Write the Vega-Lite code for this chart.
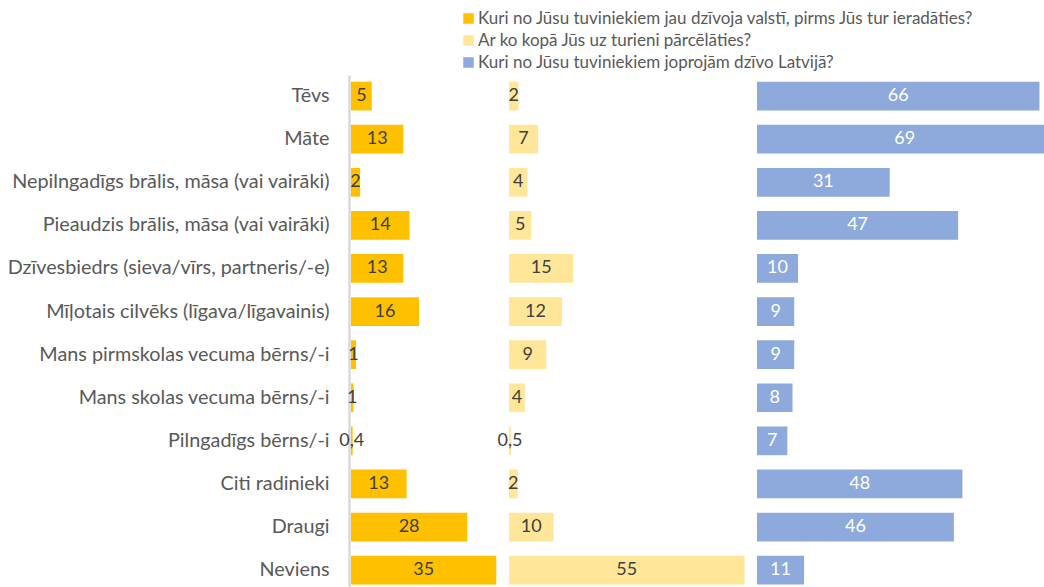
{
  "$schema": "https://vega.github.io/schema/vega-lite/v6.json",
  "padding": {"left": 7, "top": 10, "right": 0, "bottom": 0},
  "spacing": 0,
  "bounds": "flush",
  "config": {
    "view": {"stroke": null},
    "font": "Lato",
    "concat": {"spacing": 0},
    "locale": {"number": {"decimal": ",", "thousands": " ", "grouping": [3], "currency": ["", " €"]}}
  },
  "datasets": {
    "d": [
      {"cat": "Tēvs", "series": "Kuri no Jūsu tuviniekiem jau dzīvoja valstī, pirms Jūs tur ieradāties?", "value": 5},
      {"cat": "Māte", "series": "Kuri no Jūsu tuviniekiem jau dzīvoja valstī, pirms Jūs tur ieradāties?", "value": 12.6},
      {"cat": "Nepilngadīgs brālis, māsa (vai vairāki)", "series": "Kuri no Jūsu tuviniekiem jau dzīvoja valstī, pirms Jūs tur ieradāties?", "value": 2.2},
      {"cat": "Pieaudzis brālis, māsa (vai vairāki)", "series": "Kuri no Jūsu tuviniekiem jau dzīvoja valstī, pirms Jūs tur ieradāties?", "value": 14.1},
      {"cat": "Dzīvesbiedrs (sieva/vīrs, partneris/-e)", "series": "Kuri no Jūsu tuviniekiem jau dzīvoja valstī, pirms Jūs tur ieradāties?", "value": 12.6},
      {"cat": "Mīļotais cilvēks (līgava/līgavainis)", "series": "Kuri no Jūsu tuviniekiem jau dzīvoja valstī, pirms Jūs tur ieradāties?", "value": 16.4},
      {"cat": "Mans pirmskolas vecuma bērns/-i", "series": "Kuri no Jūsu tuviniekiem jau dzīvoja valstī, pirms Jūs tur ieradāties?", "value": 1.2},
      {"cat": "Mans skolas vecuma bērns/-i", "series": "Kuri no Jūsu tuviniekiem jau dzīvoja valstī, pirms Jūs tur ieradāties?", "value": 0.6},
      {"cat": "Pilngadīgs bērns/-i", "series": "Kuri no Jūsu tuviniekiem jau dzīvoja valstī, pirms Jūs tur ieradāties?", "value": 0.4},
      {"cat": "Citi radinieki", "series": "Kuri no Jūsu tuviniekiem jau dzīvoja valstī, pirms Jūs tur ieradāties?", "value": 13.4},
      {"cat": "Draugi", "series": "Kuri no Jūsu tuviniekiem jau dzīvoja valstī, pirms Jūs tur ieradāties?", "value": 28},
      {"cat": "Neviens", "series": "Kuri no Jūsu tuviniekiem jau dzīvoja valstī, pirms Jūs tur ieradāties?", "value": 35},
      {"cat": "Tēvs", "series": "Ar ko kopā Jūs uz turieni pārcēlāties?", "value": 2.2},
      {"cat": "Māte", "series": "Ar ko kopā Jūs uz turieni pārcēlāties?", "value": 6.8},
      {"cat": "Nepilngadīgs brālis, māsa (vai vairāki)", "series": "Ar ko kopā Jūs uz turieni pārcēlāties?", "value": 4.3},
      {"cat": "Pieaudzis brālis, māsa (vai vairāki)", "series": "Ar ko kopā Jūs uz turieni pārcēlāties?", "value": 5.2},
      {"cat": "Dzīvesbiedrs (sieva/vīrs, partneris/-e)", "series": "Ar ko kopā Jūs uz turieni pārcēlāties?", "value": 15},
      {"cat": "Mīļotais cilvēks (līgava/līgavainis)", "series": "Ar ko kopā Jūs uz turieni pārcēlāties?", "value": 12.4},
      {"cat": "Mans pirmskolas vecuma bērns/-i", "series": "Ar ko kopā Jūs uz turieni pārcēlāties?", "value": 8.7},
      {"cat": "Mans skolas vecuma bērns/-i", "series": "Ar ko kopā Jūs uz turieni pārcēlāties?", "value": 3.7},
      {"cat": "Pilngadīgs bērns/-i", "series": "Ar ko kopā Jūs uz turieni pārcēlāties?", "value": 0.5},
      {"cat": "Citi radinieki", "series": "Ar ko kopā Jūs uz turieni pārcēlāties?", "value": 2},
      {"cat": "Draugi", "series": "Ar ko kopā Jūs uz turieni pārcēlāties?", "value": 10.4},
      {"cat": "Neviens", "series": "Ar ko kopā Jūs uz turieni pārcēlāties?", "value": 55},
      {"cat": "Tēvs", "series": "Kuri no Jūsu tuviniekiem joprojām dzīvo Latvijā?", "value": 66},
      {"cat": "Māte", "series": "Kuri no Jūsu tuviniekiem joprojām dzīvo Latvijā?", "value": 69},
      {"cat": "Nepilngadīgs brālis, māsa (vai vairāki)", "series": "Kuri no Jūsu tuviniekiem joprojām dzīvo Latvijā?", "value": 31},
      {"cat": "Pieaudzis brālis, māsa (vai vairāki)", "series": "Kuri no Jūsu tuviniekiem joprojām dzīvo Latvijā?", "value": 47},
      {"cat": "Dzīvesbiedrs (sieva/vīrs, partneris/-e)", "series": "Kuri no Jūsu tuviniekiem joprojām dzīvo Latvijā?", "value": 9.6},
      {"cat": "Mīļotais cilvēks (līgava/līgavainis)", "series": "Kuri no Jūsu tuviniekiem joprojām dzīvo Latvijā?", "value": 8.7},
      {"cat": "Mans pirmskolas vecuma bērns/-i", "series": "Kuri no Jūsu tuviniekiem joprojām dzīvo Latvijā?", "value": 8.7},
      {"cat": "Mans skolas vecuma bērns/-i", "series": "Kuri no Jūsu tuviniekiem joprojām dzīvo Latvijā?", "value": 8.3},
      {"cat": "Pilngadīgs bērns/-i", "series": "Kuri no Jūsu tuviniekiem joprojām dzīvo Latvijā?", "value": 7.1},
      {"cat": "Citi radinieki", "series": "Kuri no Jūsu tuviniekiem joprojām dzīvo Latvijā?", "value": 48},
      {"cat": "Draugi", "series": "Kuri no Jūsu tuviniekiem joprojām dzīvo Latvijā?", "value": 46},
      {"cat": "Neviens", "series": "Kuri no Jūsu tuviniekiem joprojām dzīvo Latvijā?", "value": 11}
    ]
  },
  "data": {"name": "d"},
  "resolve": {"scale": {"x": "independent", "y": "shared", "color": "shared"}},
  "hconcat": [
    {
      "width": 158,
      "height": 512,
      "transform": [{"filter": "datum.series === 'Kuri no Jūsu tuviniekiem jau dzīvoja valstī, pirms Jūs tur ieradāties?'"}],
      "encoding": {
        "y": {
          "field": "cat", "type": "nominal",
          "sort": ["Tēvs", "Māte", "Nepilngadīgs brālis, māsa (vai vairāki)", "Pieaudzis brālis, māsa (vai vairāki)", "Dzīvesbiedrs (sieva/vīrs, partneris/-e)", "Mīļotais cilvēks (līgava/līgavainis)", "Mans pirmskolas vecuma bērns/-i", "Mans skolas vecuma bērns/-i", "Pilngadīgs bērns/-i", "Citi radinieki", "Draugi", "Neviens"],
          "scale": {"paddingInner": 0.334, "paddingOuter": 0.107, "align": 0.73},
          "axis": {"title": null, "domain": true, "domainColor": "#D9D9D9", "domainWidth": 2.5, "ticks": false, "labelPadding": 20, "labelFontSize": 19.8, "labelColor": "#595959", "labelLimit": 500, "offset": 2, "grid": false}
        }
      },
      "layer": [
        {
          "mark": {"type": "bar"},
          "encoding": {
            "x": {"field": "value", "type": "quantitative", "scale": {"domain": [0, 38.07], "nice": false, "zero": true}, "axis": null},
            "color": {
              "field": "series", "type": "nominal",
              "scale": {"domain": ["Kuri no Jūsu tuviniekiem jau dzīvoja valstī, pirms Jūs tur ieradāties?", "Ar ko kopā Jūs uz turieni pārcēlāties?", "Kuri no Jūsu tuviniekiem joprojām dzīvo Latvijā?"], "range": ["#FFC000", "#FFE699", "#8EA9DB"]},
              "legend": {"title": null, "orient": "none", "legendX": 109, "legendY": -65, "symbolType": "square", "symbolSize": 110, "symbolStrokeWidth": 0, "labelFontSize": 17, "labelColor": "#595959", "labelLimit": 700, "rowPadding": 4, "labelOffset": 1}
            }
          }
        },
        {
          "transform": [{"filter": "datum.value > 0.55"}, {"calculate": "datum.value / 2", "as": "mid"}],
          "mark": {"type": "text", "color": "#404040", "fontSize": 18, "align": "center", "baseline": "middle"},
          "encoding": {"x": {"field": "mid", "type": "quantitative"}, "text": {"field": "value", "type": "quantitative", "format": ".0f"}}
        },
        {
          "transform": [{"filter": "datum.value <= 0.55"}, {"calculate": "datum.value / 2", "as": "mid"}],
          "mark": {"type": "text", "color": "#404040", "fontSize": 18, "align": "center", "baseline": "middle"},
          "encoding": {"x": {"field": "mid", "type": "quantitative"}, "text": {"field": "value", "type": "quantitative", "format": ".1f"}}
        }
      ]
    },
    {
      "width": 248,
      "height": 512,
      "transform": [{"filter": "datum.series === 'Ar ko kopā Jūs uz turieni pārcēlāties?'"}],
      "encoding": {
        "y": {
          "field": "cat", "type": "nominal",
          "sort": ["Tēvs", "Māte", "Nepilngadīgs brālis, māsa (vai vairāki)", "Pieaudzis brālis, māsa (vai vairāki)", "Dzīvesbiedrs (sieva/vīrs, partneris/-e)", "Mīļotais cilvēks (līgava/līgavainis)", "Mans pirmskolas vecuma bērns/-i", "Mans skolas vecuma bērns/-i", "Pilngadīgs bērns/-i", "Citi radinieki", "Draugi", "Neviens"],
          "scale": {"paddingInner": 0.334, "paddingOuter": 0.107, "align": 0.73},
          "axis": null
        }
      },
      "layer": [
        {
          "mark": {"type": "bar"},
          "encoding": {
            "x": {"field": "value", "type": "quantitative", "scale": {"domain": [0, 57.9], "nice": false, "zero": true}, "axis": null},
            "color": {"field": "series", "type": "nominal"}
          }
        },
        {
          "transform": [{"filter": "datum.value > 0.55"}, {"calculate": "datum.value / 2", "as": "mid"}],
          "mark": {"type": "text", "color": "#404040", "fontSize": 18, "align": "center", "baseline": "middle"},
          "encoding": {"x": {"field": "mid", "type": "quantitative"}, "text": {"field": "value", "type": "quantitative", "format": ".0f"}}
        },
        {
          "transform": [{"filter": "datum.value <= 0.55"}, {"calculate": "datum.value / 2", "as": "mid"}],
          "mark": {"type": "text", "color": "#404040", "fontSize": 18, "align": "center", "baseline": "middle"},
          "encoding": {"x": {"field": "mid", "type": "quantitative"}, "text": {"field": "value", "type": "quantitative", "format": ".1f"}}
        }
      ]
    },
    {
      "width": 287,
      "height": 512,
      "transform": [{"filter": "datum.series === 'Kuri no Jūsu tuviniekiem joprojām dzīvo Latvijā?'"}],
      "encoding": {
        "y": {
          "field": "cat", "type": "nominal",
          "sort": ["Tēvs", "Māte", "Nepilngadīgs brālis, māsa (vai vairāki)", "Pieaudzis brālis, māsa (vai vairāki)", "Dzīvesbiedrs (sieva/vīrs, partneris/-e)", "Mīļotais cilvēks (līgava/līgavainis)", "Mans pirmskolas vecuma bērns/-i", "Mans skolas vecuma bērns/-i", "Pilngadīgs bērns/-i", "Citi radinieki", "Draugi", "Neviens"],
          "scale": {"paddingInner": 0.334, "paddingOuter": 0.107, "align": 0.73},
          "axis": null
        }
      },
      "layer": [
        {
          "mark": {"type": "bar", "clip": true},
          "encoding": {
            "x": {"field": "value", "type": "quantitative", "scale": {"domain": [0, 67.06], "nice": false, "zero": true}, "axis": null},
            "color": {"field": "series", "type": "nominal"}
          }
        },
        {
          "transform": [{"calculate": "datum.value / 2", "as": "mid"}],
          "mark": {"type": "text", "color": "#FFFFFF", "fontSize": 18, "align": "center", "baseline": "middle"},
          "encoding": {"x": {"field": "mid", "type": "quantitative"}, "text": {"field": "value", "type": "quantitative", "format": ".0f"}}
        }
      ]
    }
  ]
}
